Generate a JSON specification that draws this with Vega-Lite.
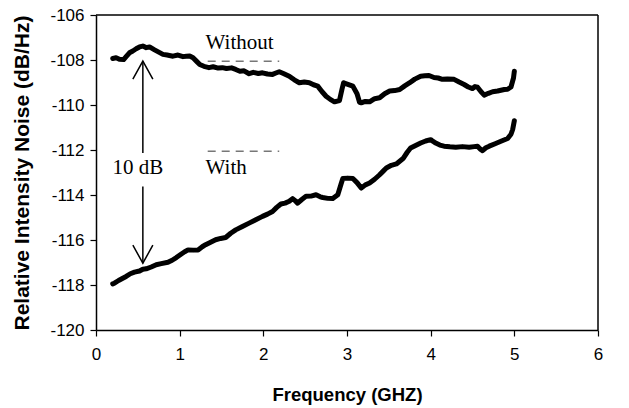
{
  "$schema": "https://vega.github.io/schema/vega-lite/v6.json",
  "autosize": {"type": "none"},
  "width": 502,
  "height": 315,
  "padding": {"left": 96, "top": 15, "right": 31, "bottom": 78},
  "background": "white",
  "config": {
    "view": {"stroke": null},
    "axis": {"grid": false, "domainColor": "black", "domainWidth": 1.5, "tickColor": "black", "tickWidth": 1.2, "tickSize": 6,
      "labelFont": "Liberation Sans", "labelFontSize": 17, "labelColor": "black",
      "titleFont": "Liberation Sans", "titleFontWeight": "bold", "titleColor": "black"}
  },
  "datasets": {
    "curves": [
      {"s":"Without","f":0.20,"v":-107.93},{"s":"Without","f":0.24,"v":-107.9},{"s":"Without","f":0.28,"v":-107.97},{"s":"Without","f":0.33,"v":-107.98},{"s":"Without","f":0.36,"v":-107.85},{"s":"Without","f":0.40,"v":-107.68},{"s":"Without","f":0.44,"v":-107.6},{"s":"Without","f":0.48,"v":-107.5},{"s":"Without","f":0.52,"v":-107.42},{"s":"Without","f":0.56,"v":-107.38},{"s":"Without","f":0.60,"v":-107.45},{"s":"Without","f":0.64,"v":-107.42},{"s":"Without","f":0.70,"v":-107.55},{"s":"Without","f":0.75,"v":-107.65},{"s":"Without","f":0.80,"v":-107.75},{"s":"Without","f":0.85,"v":-107.78},{"s":"Without","f":0.92,"v":-107.83},{"s":"Without","f":0.98,"v":-107.78},{"s":"Without","f":1.04,"v":-107.85},{"s":"Without","f":1.08,"v":-107.83},{"s":"Without","f":1.12,"v":-107.82},{"s":"Without","f":1.16,"v":-107.9},{"s":"Without","f":1.20,"v":-108.05},{"s":"Without","f":1.24,"v":-108.2},{"s":"Without","f":1.29,"v":-108.28},{"s":"Without","f":1.35,"v":-108.34},{"s":"Without","f":1.40,"v":-108.3},{"s":"Without","f":1.46,"v":-108.36},{"s":"Without","f":1.51,"v":-108.34},{"s":"Without","f":1.56,"v":-108.38},{"s":"Without","f":1.62,"v":-108.35},{"s":"Without","f":1.67,"v":-108.42},{"s":"Without","f":1.72,"v":-108.5},{"s":"Without","f":1.77,"v":-108.48},{"s":"Without","f":1.83,"v":-108.61},{"s":"Without","f":1.88,"v":-108.55},{"s":"Without","f":1.94,"v":-108.6},{"s":"Without","f":1.99,"v":-108.57},{"s":"Without","f":2.05,"v":-108.62},{"s":"Without","f":2.11,"v":-108.64},{"s":"Without","f":2.15,"v":-108.58},{"s":"Without","f":2.19,"v":-108.52},{"s":"Without","f":2.24,"v":-108.6},{"s":"Without","f":2.31,"v":-108.72},{"s":"Without","f":2.37,"v":-108.88},{"s":"Without","f":2.43,"v":-109.01},{"s":"Without","f":2.49,"v":-108.98},{"s":"Without","f":2.55,"v":-109.01},{"s":"Without","f":2.60,"v":-109.1},{"s":"Without","f":2.65,"v":-109.16},{"s":"Without","f":2.70,"v":-109.4},{"s":"Without","f":2.75,"v":-109.61},{"s":"Without","f":2.80,"v":-109.75},{"s":"Without","f":2.85,"v":-109.86},{"s":"Without","f":2.91,"v":-109.8},{"s":"Without","f":2.94,"v":-109.3},{"s":"Without","f":2.96,"v":-109.01},{"s":"Without","f":3.01,"v":-109.08},{"s":"Without","f":3.07,"v":-109.16},{"s":"Without","f":3.12,"v":-109.5},{"s":"Without","f":3.15,"v":-109.88},{"s":"Without","f":3.17,"v":-109.9},{"s":"Without","f":3.22,"v":-109.84},{"s":"Without","f":3.27,"v":-109.86},{"s":"Without","f":3.33,"v":-109.72},{"s":"Without","f":3.39,"v":-109.68},{"s":"Without","f":3.45,"v":-109.5},{"s":"Without","f":3.51,"v":-109.38},{"s":"Without","f":3.57,"v":-109.36},{"s":"Without","f":3.63,"v":-109.31},{"s":"Without","f":3.69,"v":-109.15},{"s":"Without","f":3.75,"v":-109.01},{"s":"Without","f":3.81,"v":-108.85},{"s":"Without","f":3.88,"v":-108.72},{"s":"Without","f":3.93,"v":-108.7},{"s":"Without","f":3.98,"v":-108.69},{"s":"Without","f":4.04,"v":-108.78},{"s":"Without","f":4.09,"v":-108.8},{"s":"Without","f":4.14,"v":-108.86},{"s":"Without","f":4.20,"v":-108.84},{"s":"Without","f":4.28,"v":-108.86},{"s":"Without","f":4.34,"v":-108.98},{"s":"Without","f":4.40,"v":-109.09},{"s":"Without","f":4.45,"v":-109.2},{"s":"Without","f":4.50,"v":-109.27},{"s":"Without","f":4.53,"v":-109.18},{"s":"Without","f":4.56,"v":-109.21},{"s":"Without","f":4.60,"v":-109.4},{"s":"Without","f":4.64,"v":-109.56},{"s":"Without","f":4.69,"v":-109.48},{"s":"Without","f":4.74,"v":-109.41},{"s":"Without","f":4.80,"v":-109.38},{"s":"Without","f":4.88,"v":-109.31},{"s":"Without","f":4.92,"v":-109.3},{"s":"Without","f":4.96,"v":-109.2},{"s":"Without","f":4.99,"v":-108.8},{"s":"Without","f":5.00,"v":-108.5},
      {"s":"With","f":0.20,"v":-117.95},{"s":"With","f":0.22,"v":-117.92},{"s":"With","f":0.27,"v":-117.8},{"s":"With","f":0.32,"v":-117.7},{"s":"With","f":0.36,"v":-117.62},{"s":"With","f":0.41,"v":-117.5},{"s":"With","f":0.46,"v":-117.43},{"s":"With","f":0.52,"v":-117.38},{"s":"With","f":0.56,"v":-117.3},{"s":"With","f":0.60,"v":-117.28},{"s":"With","f":0.66,"v":-117.2},{"s":"With","f":0.72,"v":-117.1},{"s":"With","f":0.78,"v":-117.05},{"s":"With","f":0.86,"v":-116.99},{"s":"With","f":0.91,"v":-116.9},{"s":"With","f":0.96,"v":-116.78},{"s":"With","f":1.02,"v":-116.62},{"s":"With","f":1.06,"v":-116.52},{"s":"With","f":1.10,"v":-116.44},{"s":"With","f":1.16,"v":-116.45},{"s":"With","f":1.22,"v":-116.44},{"s":"With","f":1.27,"v":-116.3},{"s":"With","f":1.31,"v":-116.21},{"s":"With","f":1.37,"v":-116.1},{"s":"With","f":1.43,"v":-115.99},{"s":"With","f":1.49,"v":-115.93},{"s":"With","f":1.55,"v":-115.89},{"s":"With","f":1.61,"v":-115.7},{"s":"With","f":1.67,"v":-115.55},{"s":"With","f":1.75,"v":-115.4},{"s":"With","f":1.83,"v":-115.25},{"s":"With","f":1.91,"v":-115.1},{"s":"With","f":1.99,"v":-114.95},{"s":"With","f":2.05,"v":-114.85},{"s":"With","f":2.11,"v":-114.73},{"s":"With","f":2.16,"v":-114.55},{"s":"With","f":2.21,"v":-114.4},{"s":"With","f":2.26,"v":-114.36},{"s":"With","f":2.31,"v":-114.28},{"s":"With","f":2.35,"v":-114.16},{"s":"With","f":2.38,"v":-114.25},{"s":"With","f":2.41,"v":-114.36},{"s":"With","f":2.46,"v":-114.2},{"s":"With","f":2.51,"v":-114.06},{"s":"With","f":2.57,"v":-114.05},{"s":"With","f":2.63,"v":-113.99},{"s":"With","f":2.68,"v":-114.08},{"s":"With","f":2.71,"v":-114.11},{"s":"With","f":2.77,"v":-114.15},{"s":"With","f":2.83,"v":-114.16},{"s":"With","f":2.89,"v":-113.99},{"s":"With","f":2.93,"v":-113.5},{"s":"With","f":2.95,"v":-113.27},{"s":"With","f":3.01,"v":-113.25},{"s":"With","f":3.07,"v":-113.27},{"s":"With","f":3.12,"v":-113.45},{"s":"With","f":3.17,"v":-113.69},{"s":"With","f":3.22,"v":-113.55},{"s":"With","f":3.27,"v":-113.47},{"s":"With","f":3.33,"v":-113.3},{"s":"With","f":3.39,"v":-113.1},{"s":"With","f":3.43,"v":-112.95},{"s":"With","f":3.47,"v":-112.8},{"s":"With","f":3.53,"v":-112.68},{"s":"With","f":3.59,"v":-112.62},{"s":"With","f":3.63,"v":-112.5},{"s":"With","f":3.67,"v":-112.38},{"s":"With","f":3.72,"v":-112.1},{"s":"With","f":3.76,"v":-111.91},{"s":"With","f":3.82,"v":-111.8},{"s":"With","f":3.88,"v":-111.69},{"s":"With","f":3.94,"v":-111.6},{"s":"With","f":4.00,"v":-111.54},{"s":"With","f":4.03,"v":-111.62},{"s":"With","f":4.06,"v":-111.69},{"s":"With","f":4.11,"v":-111.78},{"s":"With","f":4.16,"v":-111.83},{"s":"With","f":4.23,"v":-111.86},{"s":"With","f":4.30,"v":-111.88},{"s":"With","f":4.38,"v":-111.85},{"s":"With","f":4.46,"v":-111.88},{"s":"With","f":4.52,"v":-111.85},{"s":"With","f":4.56,"v":-111.83},{"s":"With","f":4.59,"v":-111.95},{"s":"With","f":4.62,"v":-112.03},{"s":"With","f":4.66,"v":-111.9},{"s":"With","f":4.70,"v":-111.83},{"s":"With","f":4.77,"v":-111.72},{"s":"With","f":4.84,"v":-111.61},{"s":"With","f":4.92,"v":-111.49},{"s":"With","f":4.96,"v":-111.3},{"s":"With","f":4.98,"v":-111.09},{"s":"With","f":5.00,"v":-110.7}
    ],
    "leftLabels": [
      {"label":"Without","f":1.31,"v":-107.53},
      {"label":"With","f":1.31,"v":-113.07}
    ],
    "centerLabels": [
      {"label":"10 dB","f":0.5,"v":-113.07}
    ],
    "dashes": [
      {"f":1.335,"f2":2.19,"v":-108.05},
      {"f":1.335,"f2":2.19,"v":-112.06}
    ],
    "shafts": [
      {"f":0.56,"v":-108.05,"v2":-112.13},
      {"f":0.56,"v":-113.62,"v2":-117.03}
    ],
    "heads": [
      {"f":0.56,"v":-108.05,"dir":"up"},
      {"f":0.56,"v":-117.03,"dir":"down"}
    ],
    "frameH": [
      {"f":0,"f2":6,"v":-106}
    ],
    "frameV": [
      {"f":6,"v":-120,"v2":-106}
    ]
  },
  "layer": [
    {
      "data": {"name": "curves"},
      "mark": {"type": "line", "color": "black", "strokeWidth": 5, "strokeJoin": "round", "strokeCap": "round"},
      "encoding": {
        "x": {"field": "f", "type": "quantitative", "scale": {"domain": [0, 6], "nice": false},
          "axis": {"values": [0,1,2,3,4,5,6], "format": "d", "labelFlush": false, "title": "Frequency (GHZ)", "titleFontSize": 18.5, "labelPadding": 10, "titlePadding": 23}},
        "y": {"field": "v", "type": "quantitative", "scale": {"domain": [-120, -106], "nice": false, "zero": false},
          "axis": {"values": [-120,-118,-116,-114,-112,-110,-108,-106], "title": "Relative Intensity Noise (dB/Hz)", "titleFontSize": 21,
            "labelExpr": "replace(datum.label, '\u2212', '-')", "labelPadding": 6, "titlePadding": 17}},
        "detail": {"field": "s"}
      }
    },
    {
      "data": {"name": "frameH"},
      "mark": {"type": "rule", "color": "black", "strokeWidth": 1.5},
      "encoding": {
        "x": {"field": "f", "type": "quantitative"},
        "x2": {"field": "f2"},
        "y": {"field": "v", "type": "quantitative"}
      }
    },
    {
      "data": {"name": "frameV"},
      "mark": {"type": "rule", "color": "black", "strokeWidth": 1.5},
      "encoding": {
        "x": {"field": "f", "type": "quantitative"},
        "y": {"field": "v", "type": "quantitative"},
        "y2": {"field": "v2"}
      }
    },
    {
      "data": {"name": "dashes"},
      "mark": {"type": "rule", "color": "#777", "strokeWidth": 1.5, "strokeDash": [8, 6]},
      "encoding": {
        "x": {"field": "f", "type": "quantitative"},
        "x2": {"field": "f2"},
        "y": {"field": "v", "type": "quantitative"}
      }
    },
    {
      "data": {"name": "shafts"},
      "mark": {"type": "rule", "color": "black", "strokeWidth": 1.5},
      "encoding": {
        "x": {"field": "f", "type": "quantitative"},
        "y": {"field": "v", "type": "quantitative"},
        "y2": {"field": "v2"}
      }
    },
    {
      "data": {"name": "heads"},
      "mark": {"type": "point", "filled": false, "stroke": "black", "strokeWidth": 1.5, "size": 400, "opacity": 1},
      "encoding": {
        "x": {"field": "f", "type": "quantitative"},
        "y": {"field": "v", "type": "quantitative"},
        "shape": {"field": "dir", "type": "nominal", "legend": null,
          "scale": {"domain": ["up", "down"], "range": ["M-1,1.8L0,0L1,1.8", "M-1,-1.8L0,0L1,-1.8"]}}
      }
    },
    {
      "data": {"name": "leftLabels"},
      "mark": {"type": "text", "font": "Liberation Serif", "fontSize": 21, "color": "black", "baseline": "alphabetic", "align": "left"},
      "encoding": {
        "x": {"field": "f", "type": "quantitative"},
        "y": {"field": "v", "type": "quantitative"},
        "text": {"field": "label"}
      }
    },
    {
      "data": {"name": "centerLabels"},
      "mark": {"type": "text", "font": "Liberation Serif", "fontSize": 21, "color": "black", "baseline": "alphabetic", "align": "center"},
      "encoding": {
        "x": {"field": "f", "type": "quantitative"},
        "y": {"field": "v", "type": "quantitative"},
        "text": {"field": "label"}
      }
    }
  ]
}
